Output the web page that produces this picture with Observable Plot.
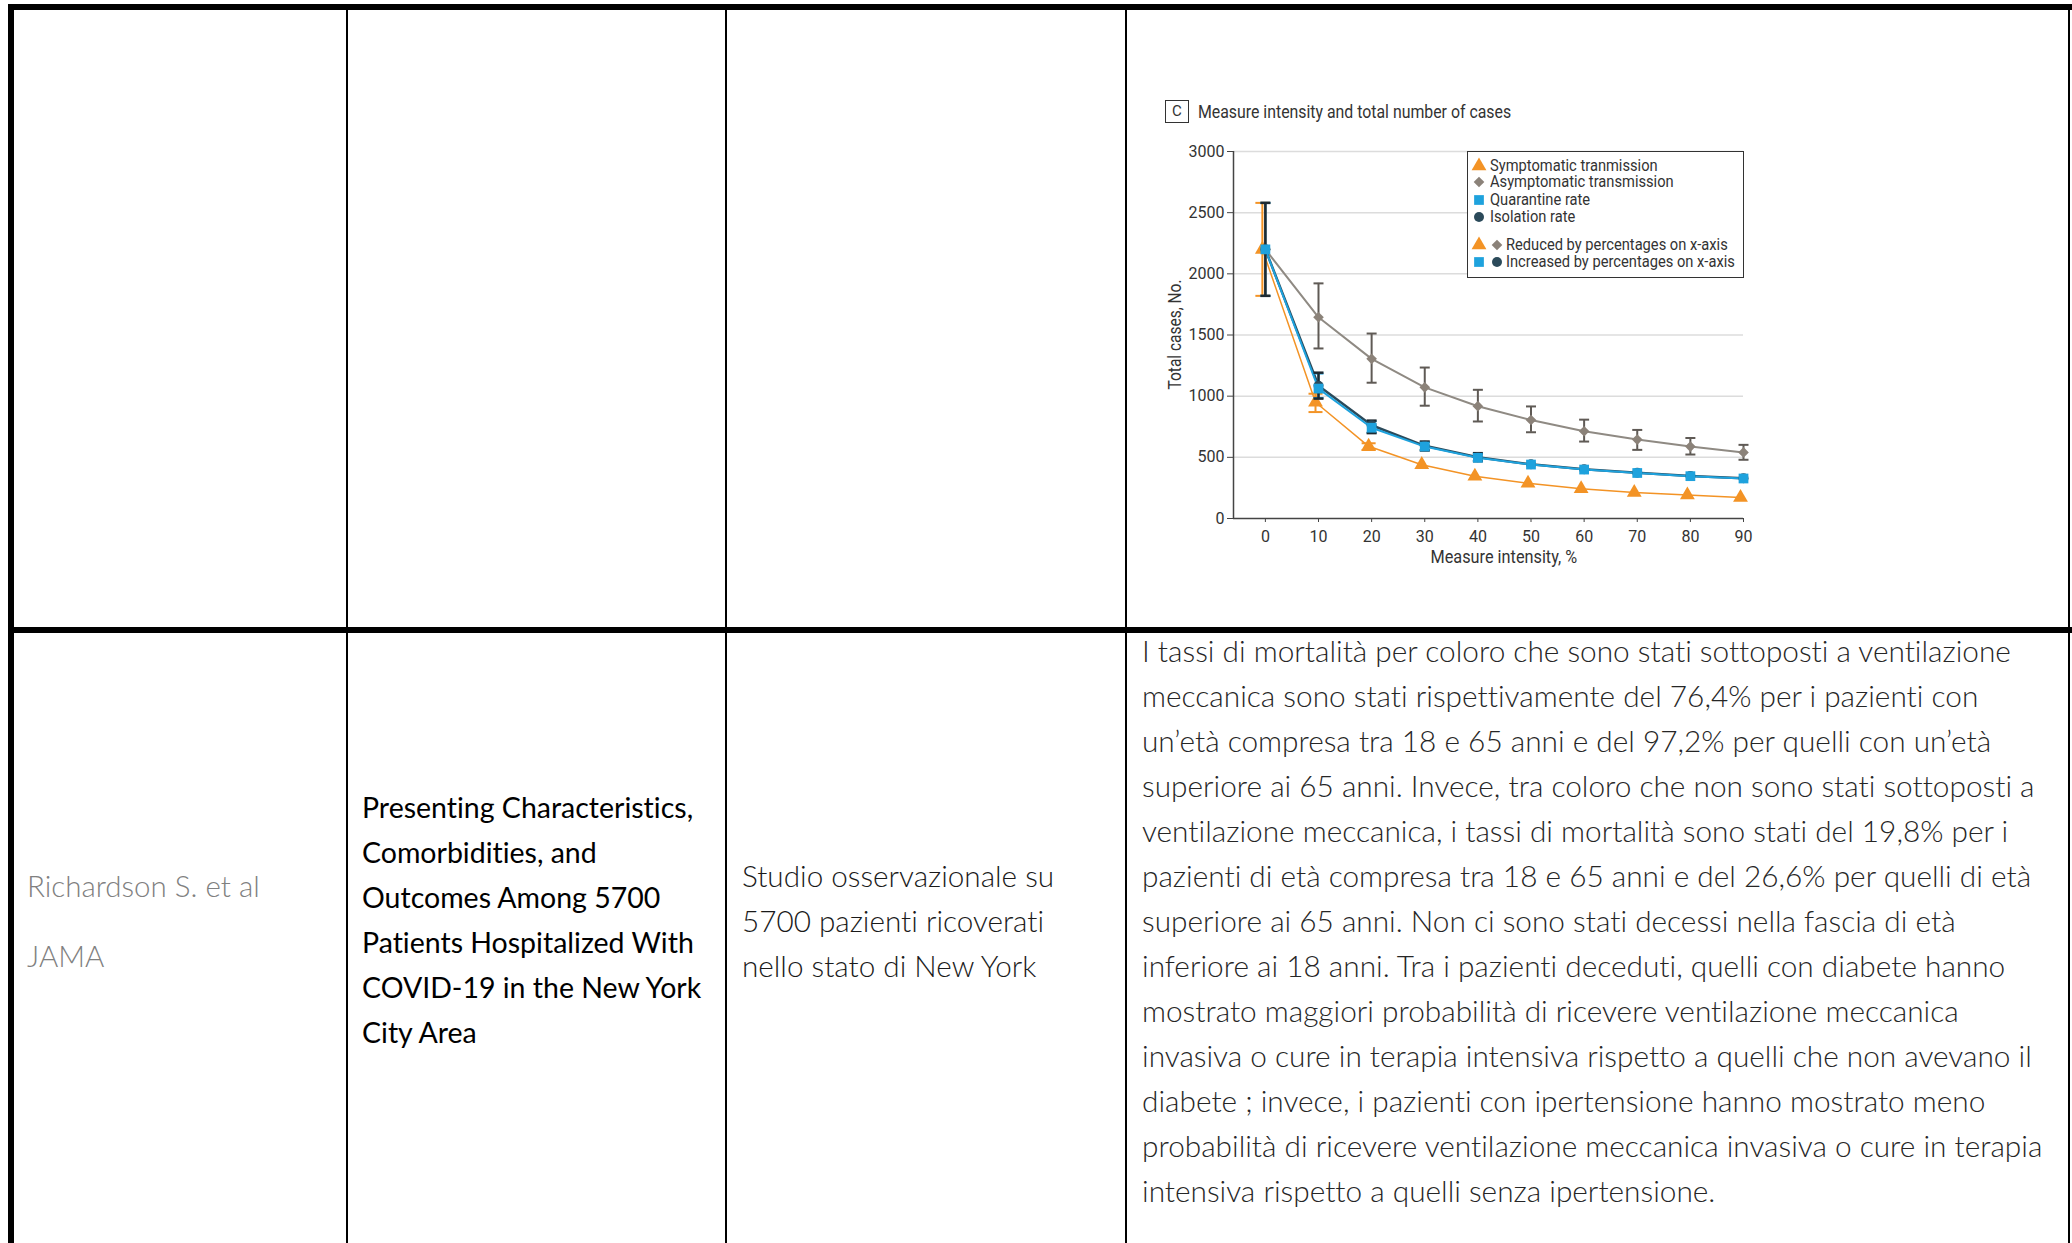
<!DOCTYPE html>
<html>
<head>
<meta charset="utf-8">
<script src="https://cdn.jsdelivr.net/npm/d3@7"></script>
<script src="https://cdn.jsdelivr.net/npm/@observablehq/plot@0.6"></script>
<style>
  html, body { margin: 0; padding: 0; background: #fff; }
  #page { position: relative; width: 2072px; height: 1243px; overflow: hidden; background: #fff; }
  .rule { position: absolute; background: #000; }
  .txt { position: absolute; white-space: pre; font-family: Lato, "Open Sans", sans-serif; font-variant-ligatures: none; }
  .cap { position: absolute; font-family: Roboto, sans-serif; color: #333; white-space: pre; transform-origin: 0 50%; }
  #legend { position: absolute; border: 1.5px solid #333; box-sizing: border-box; background: #fff; }
  #legend svg { position: absolute; overflow: visible; }
  #legend span { position: absolute; font-family: Roboto, sans-serif; font-size: 16.5px; color: #333; white-space: pre; line-height: 18px; transform-origin: 0 50%; transform: scaleX(0.89); }
</style>
</head>
<body>
<div id="page"></div>
<script>
// ---- chart data: total cases by measure intensity ----
const intensity = [0, 10, 20, 30, 40, 50, 60, 70, 80, 90];

const symptomatic     = [2200, 950, 590, 440, 345, 288, 243, 212, 192, 172];
const symptomaticLow  = [1820, 870, 560, null, null, null, null, null, null, null];
const symptomaticHigh = [2580, 1020, 615, null, null, null, null, null, null, null];

const asymptomatic     = [2200, 1645, 1305, 1072, 918, 805, 713, 645, 588, 540];
const asymptomaticLow  = [1820, 1390, 1110, 922, 793, 705, 629, 561, 523, 480];
const asymptomaticHigh = [2580, 1922, 1512, 1234, 1052, 916, 808, 724, 658, 602];

const quarantine     = [2200, 1062, 742, 588, 496, 441, 400, 372, 346, 327];
const quarantineLow  = [1820, 985, 700, 560, 472, null, null, null, null, null];
const quarantineHigh = [2580, 1185, 795, 625, 528, null, null, null, null, null];

const isolation     = [2200, 1085, 762, 594, 500, 443, 402, 374, 348, 329];
const isolationLow  = [1820, 980, 698, 556, 469, null, null, null, null, null];
const isolationHigh = [2580, 1192, 800, 629, 534, null, null, null, null, null];

const yTicks = [0, 500, 1000, 1500, 2000, 2500, 3000];

const panelLetter = "C";
const chartTitle = "Measure intensity and total number of cases";
const xLabel = "Measure intensity, %";
const yLabel = "Total cases, No.";
const seriesNames = ["Symptomatic tranmission", "Asymptomatic transmission", "Quarantine rate", "Isolation rate"];
const groupNotes = ["Reduced by percentages on x-axis", "Increased by percentages on x-axis"];

const colors = { symptomatic: "#f39325", asymptomatic: "#8b8279", quarantine: "#1ea2dd", isolation: "#2b4a5a" };

// ---- table text ----
const authorLines = ["Richardson S. et al", "JAMA"];
const titleLines = [
  "Presenting Characteristics,",
  "Comorbidities, and",
  "Outcomes Among 5700",
  "Patients Hospitalized With",
  "COVID-19 in the New York",
  "City Area"
];
const designLines = ["Studio osservazionale su", "5700 pazienti ricoverati", "nello stato di New York"];
const findingLines = [
  "I tassi di mortalità per coloro che sono stati sottoposti a ventilazione",
  "meccanica sono stati rispettivamente del 76,4% per i pazienti con",
  "un’età compresa tra 18 e 65 anni e del 97,2% per quelli con un’età",
  "superiore ai 65 anni. Invece, tra coloro che non sono stati sottoposti a",
  "ventilazione meccanica, i tassi di mortalità sono stati del 19,8% per i",
  "pazienti di età compresa tra 18 e 65 anni e del 26,6% per quelli di età",
  "superiore ai 65 anni. Non ci sono stati decessi nella fascia di età",
  "inferiore ai 18 anni. Tra i pazienti deceduti, quelli con diabete hanno",
  "mostrato maggiori probabilità di ricevere ventilazione meccanica",
  "invasiva o cure in terapia intensiva rispetto a quelli che non avevano il",
  "diabete ; invece, i pazienti con ipertensione hanno mostrato meno",
  "probabilità di ricevere ventilazione meccanica invasiva o cure in terapia",
  "intensiva rispetto a quelli senza ipertensione."
];

const page = document.getElementById("page");

// ---- table grid ----
function rule(left, top, width, height) {
  const d = document.createElement("div");
  d.className = "rule";
  Object.assign(d.style, { left: left + "px", top: top + "px", width: width + "px", height: height + "px" });
  page.appendChild(d);
}
rule(8, 4, 2064, 6);      // top border
rule(8, 4, 6, 1239);      // left border
rule(346, 10, 2, 1233);   // column separators
rule(725, 10, 1.5, 1233);
rule(1125, 10, 1.5, 1233);
rule(2068, 10, 2, 1233);  // right border
rule(8, 627, 2064, 6);    // row separator

// ---- table text (positioned by baseline) ----
function textBlock(lines, left, firstBaseline, step, size, weight, color) {
  lines.forEach((line, i) => {
    const d = document.createElement("div");
    d.className = "txt";
    d.textContent = line;
    const lh = 40;
    Object.assign(d.style, {
      left: left + "px",
      top: (firstBaseline + i * step - (lh / 2 + 0.387 * size)) + "px",
      fontSize: size + "px",
      lineHeight: lh + "px",
      fontWeight: weight,
      color
    });
    page.appendChild(d);
  });
}
textBlock(authorLines, 27, 897, 70, 29.5, 300, "#808080");
textBlock(titleLines, 362, 818, 45, 28.5, 400, "#000");
textBlock(designLines, 742, 887, 45, 29.7, 300, "#1a1a1a");
textBlock(findingLines, 1142, 663, 45, 29.8, 300, "#262626");

// ---- chart ----
const rows = (v, lo, hi) => intensity.map((x, i) => ({ x, y: v[i], lo: lo[i], hi: hi[i] }));
const symRows = rows(symptomatic, symptomaticLow, symptomaticHigh);
const asymRows = rows(asymptomatic, asymptomaticLow, asymptomaticHigh);
const quarRows = rows(quarantine, quarantineLow, quarantineHigh);
const isoRows = rows(isolation, isolationLow, isolationHigh);

// horizontal cap for error bars; r is the half-width
const capSymbol = {
  draw(ctx, size) {
    const r = Math.sqrt(size / Math.PI);
    ctx.moveTo(-r, 0);
    ctx.lineTo(r, 0);
  }
};

function errorBars(data, color, width, capR, dx = 0) {
  const d = data.filter((r) => r.lo != null);
  return [
    Plot.ruleX(d, { x: "x", y1: "lo", y2: "hi", stroke: color, strokeWidth: width, dx }),
    Plot.dot(d, { x: "x", y: "lo", symbol: capSymbol, r: capR, fill: "none", stroke: color, strokeWidth: width, dx }),
    Plot.dot(d, { x: "x", y: "hi", symbol: capSymbol, r: capR, fill: "none", stroke: color, strokeWidth: width, dx })
  ];
}

const chart = Plot.plot({
  width: 620,
  height: 490,
  marginLeft: 93,
  marginRight: 17,
  marginTop: 61,
  marginBottom: 62,
  x: { domain: [-6, 90] },
  y: { domain: [0, 3000] },
  style: { fontFamily: "Roboto, sans-serif", fontSize: "16px", color: "#333", background: "transparent", overflow: "visible" },
  marks: [
    Plot.gridY(yTicks.slice(1), { stroke: "#dcdcdc", strokeOpacity: 1, strokeWidth: 1.5 }),
    Plot.axisY(yTicks, { tickSize: 6, tickPadding: 3, tickFormat: "d", label: null, stroke: "#444" }),
    Plot.axisX(intensity, { tickSize: 4, tickPadding: 8, tickFormat: "d", label: null, stroke: "#444" }),
    Plot.ruleY([0], { stroke: "#444", strokeWidth: 1.5 }),
    Plot.ruleX([-6], { stroke: "#444", strokeWidth: 1.5 }),

    // asymptomatic transmission
    Plot.line(asymRows, { x: "x", y: "y", stroke: "#8f8a83", strokeWidth: 2 }),
    ...errorBars(asymRows, "#5f5a55", 2, 5),
    Plot.dot(asymRows, { x: "x", y: "y", symbol: "diamond2", r: 4.8, fill: colors.asymptomatic }),

    // symptomatic transmission
    Plot.line(symRows, { x: "x", y: "y", stroke: colors.symptomatic, strokeWidth: 1.5, dx: -3 }),
    ...errorBars(symRows, colors.symptomatic, 2, 7, -3),
    Plot.dot(symRows, { x: "x", y: "y", symbol: "triangle", r: 5.5, fill: colors.symptomatic, dx: -3 }),

    // isolation and quarantine rates
    Plot.line(isoRows, { x: "x", y: "y", stroke: colors.isolation, strokeWidth: 2.5 }),
    Plot.line(quarRows, { x: "x", y: "y", stroke: colors.quarantine, strokeWidth: 2 }),
    ...errorBars(quarRows, colors.quarantine, 2, 5),
    ...errorBars(isoRows, "#1f2a31", 2.5, 5),
    Plot.dot(isoRows, { x: "x", y: "y", symbol: "circle", r: 5, fill: colors.isolation }),
    Plot.dot(quarRows, { x: "x", y: "y", symbol: "square", r: 5.5, fill: colors.quarantine })
  ]
});
chart.style.position = "absolute";
chart.style.left = "1140px";
chart.style.top = "90px";
page.appendChild(chart);

// ---- chart title, axis titles ----
function caption(text, left, centerY, size, scale, extra = {}) {
  const d = document.createElement("div");
  d.className = "cap";
  d.textContent = text;
  Object.assign(d.style, {
    left: left + "px",
    top: (centerY - size * 0.6) + "px",
    fontSize: size + "px",
    lineHeight: (size * 1.2) + "px",
    transform: `scaleX(${scale})`,
    ...extra
  });
  page.appendChild(d);
  return d;
}
caption(panelLetter, 1165, 112, 15, 1, {
  width: "24px", height: "23px", boxSizing: "border-box", border: "1.5px solid #333",
  textAlign: "center", lineHeight: "20px", top: "100px"
});
caption(chartTitle, 1198, 112, 17.5, 0.906);

const xl = caption(xLabel, 0, 557, 17.5, 1);
xl.style.transformOrigin = "50% 50%";
xl.style.left = (1504 - xl.offsetWidth / 2) + "px";
xl.style.transform = "scaleX(0.93)";

const yl = caption(yLabel, 0, 334, 17.5, 1);
yl.style.transformOrigin = "50% 50%";
yl.style.left = (1175 - yl.offsetWidth / 2) + "px";
yl.style.transform = "rotate(-90deg) scaleX(0.885)";

// ---- legend ----
const legend = document.createElement("div");
legend.id = "legend";
Object.assign(legend.style, { left: "1467px", top: "151px", width: "277px", height: "127px" });
page.appendChild(legend);

const symbolPath = (type, r) => d3.symbol(type, r * r * Math.PI)();
const legendSymbols = [
  { type: d3.symbolTriangle, color: colors.symptomatic, r: 5.5 },
  { type: d3.symbolDiamond2, color: colors.asymptomatic, r: 4.8 },
  { type: d3.symbolSquare, color: colors.quarantine, r: 5.5 },
  { type: d3.symbolCircle, color: colors.isolation, r: 5 }
];
function legendMarker(sym, cx, cy) {
  const s = d3.create("svg").attr("width", 1).attr("height", 1)
    .style("left", cx + "px").style("top", cy + "px");
  s.append("path").attr("d", symbolPath(sym.type, sym.r)).attr("fill", sym.color);
  legend.appendChild(s.node());
}
function legendText(text, left, cy) {
  const t = document.createElement("span");
  t.textContent = text;
  t.style.left = left + "px";
  t.style.top = (cy - 9) + "px";
  legend.appendChild(t);
}
const rowY = [13.5, 29.8, 47.5, 64.8];
seriesNames.forEach((name, i) => {
  legendMarker(legendSymbols[i], 10.5, rowY[i]);
  legendText(name, 22, rowY[i]);
});
const noteY = [92.5, 109.8];
legendMarker(legendSymbols[0], 10.5, noteY[0]);
legendMarker(legendSymbols[1], 29, noteY[0]);
legendText(groupNotes[0], 38, noteY[0]);
legendMarker(legendSymbols[2], 10.5, noteY[1]);
legendMarker(legendSymbols[3], 29, noteY[1]);
legendText(groupNotes[1], 38, noteY[1]);
</script>
</body>
</html>
